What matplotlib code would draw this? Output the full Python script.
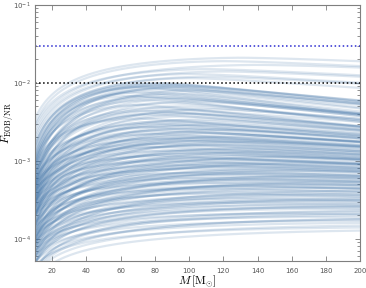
import numpy as np
import matplotlib
matplotlib.use('Agg')
import matplotlib.pyplot as plt
from matplotlib.ticker import LogLocator, NullFormatter

# per-curve values (units of 1e-3 for F)
f_start = [3.5, 3.0, 2.5, 2.8, 2.0, 2.2, 1.8, 1.6,
           1.2, 1.0, 1.5, 0.9, 1.3, 0.8, 1.1, 0.7, 1.0, 0.6, 0.9, 1.4, 0.5, 0.8, 1.2, 0.6,
           0.5, 0.9, 0.4, 0.7, 1.0, 0.45, 0.6, 0.35, 0.8, 0.5, 0.3, 0.65, 0.4, 0.9, 0.28,
           0.5, 0.35, 0.6, 0.25, 0.45, 0.7, 0.3, 0.2, 0.55, 0.4, 0.25, 0.6, 0.35, 0.18, 0.45,
           0.3, 0.5, 0.22, 0.38, 0.15,
           0.3, 0.45, 0.2, 0.35, 0.5, 0.15, 0.28, 0.4, 0.12, 0.25, 0.33, 0.2, 0.42, 0.1, 0.22,
           0.3, 0.16, 0.35, 0.13, 0.25, 0.09, 0.2,
           0.3, 0.15, 0.22, 0.1, 0.27, 0.08, 0.18, 0.25, 0.12, 0.2, 0.07, 0.15, 0.22, 0.1,
           0.17, 0.06, 0.13, 0.2, 0.09, 0.14,
           0.12, 0.07, 0.16, 0.09, 0.05, 0.11, 0.14, 0.06, 0.1, 0.08, 0.12, 0.05, 0.09, 0.07, 0.11,
           0.06, 0.09, 0.05, 0.08, 0.07, 0.04, 0.06, 0.08, 0.05, 0.07, 0.04, 0.06, 0.05, 0.035,
           0.045, 0.03,
           1.6, 1.1, 0.75, 0.55, 0.42, 0.32, 0.26, 0.21, 0.17, 0.14, 0.11, 0.095, 0.08, 0.065,
           0.055, 0.048, 0.04, 0.036, 0.7, 0.5, 0.38, 0.29, 0.23, 0.19, 0.15, 0.12, 0.1, 0.085]
f_peak = [21, 19, 17, 15, 14, 13, 12, 11.5,
          10, 9.8, 9.6, 9.4, 9.2, 9.0, 8.8, 8.6, 8.3, 8.0, 7.8, 7.5, 7.3, 7.0, 6.8, 6.5,
          6.2, 6.0, 5.8, 5.5, 5.2, 5.0, 4.8, 4.6, 4.4, 4.2, 4.0, 3.9, 3.7, 3.5, 3.4,
          3.2, 3.1, 3.0, 2.9, 2.8, 2.7, 2.6, 2.5, 2.45, 2.35, 2.25, 2.2, 2.1, 2.05, 2.0,
          1.95, 1.9, 1.85, 1.8, 1.75,
          1.7, 1.65, 1.6, 1.55, 1.5, 1.45, 1.4, 1.35, 1.3, 1.27, 1.23, 1.2, 1.15, 1.12, 1.1,
          1.07, 1.04, 1.0, 0.98, 0.95, 0.93, 0.9,
          0.88, 0.85, 0.82, 0.8, 0.78, 0.75, 0.72, 0.7, 0.68, 0.66, 0.64, 0.62, 0.6, 0.58,
          0.56, 0.54, 0.53, 0.52, 0.5, 0.48,
          0.47, 0.45, 0.44, 0.42, 0.41, 0.4, 0.38, 0.37, 0.36, 0.34, 0.33, 0.32, 0.31, 0.3, 0.29,
          0.28, 0.27, 0.26, 0.25, 0.24, 0.23, 0.22, 0.21, 0.2, 0.19, 0.18, 0.17, 0.16, 0.15,
          0.14, 0.13,
          9.0, 6.6, 4.5, 3.3, 2.6, 2.0, 1.6, 1.3, 1.05, 0.86, 0.7, 0.58, 0.46, 0.38,
          0.32, 0.26, 0.21, 0.18, 4.1, 2.9, 2.3, 1.8, 1.4, 1.15, 0.92, 0.76, 0.62, 0.5]
m_peak = [130, 120, 140, 110, 120, 100, 110, 100,
          80, 85, 75, 90, 80, 95, 70, 85, 80, 100, 75, 70, 90, 80, 65, 85,
          90, 75, 100, 85, 70, 95, 80, 110, 75, 90, 100, 80, 95, 70, 105,
          85, 100, 80, 110, 90, 75, 100, 120, 85, 95, 110, 80, 100, 125, 90,
          105, 85, 115, 95, 130,
          100, 85, 115, 95, 80, 130, 105, 90, 140, 110, 100, 120, 85, 150, 115,
          100, 130, 90, 140, 110, 160, 120,
          95, 130, 110, 150, 100, 165, 120, 100, 140, 115, 170, 125, 105, 150,
          120, 180, 135, 110, 160, 130,
          130, 170, 115, 150, 190, 140, 120, 180, 145, 160, 130, 200, 150, 170, 135,
          180, 150, 200, 160, 170, 220, 185, 155, 200, 170, 230, 190, 210, 240,
          220, 250,
          75, 80, 90, 95, 100, 105, 110, 115, 120, 130, 135, 140, 150, 160,
          170, 180, 200, 220, 85, 95, 100, 110, 120, 125, 135, 145, 155, 165]

mass = np.linspace(10, 200, 300)

fig = plt.figure(figsize=(3.66, 2.88), dpi=100)
ax = fig.add_axes([0.096, 0.094, 0.888, 0.889])

for f0, fp, mp in zip(f_start, f_peak, m_peak):
    t = (np.log(mass) - np.log(mp)) / (np.log(10) - np.log(mp))
    log_f = np.log10(fp * 1e-3) - np.log10(fp / f0) * np.abs(t) ** 1.6
    ax.plot(mass, 10 ** log_f, color='#3a6fa5', alpha=0.17, lw=1.6)

ax.axhline(0.03, color='#2a2ad0', ls=':', lw=1.1)
ax.axhline(0.01, color='black', ls=':', lw=1.1)

ax.set_yscale('log')
ax.set_xlim(10, 200)
ax.set_ylim(5.2e-5, 1e-1)
ax.set_xticks(np.arange(20, 201, 20))
ax.yaxis.set_major_locator(LogLocator(base=10, numticks=10))
ax.yaxis.set_minor_locator(LogLocator(base=10, subs=np.arange(2, 10), numticks=20))
ax.yaxis.set_minor_formatter(NullFormatter())

for s in ax.spines.values():
    s.set_color('#7f7f7f')
    s.set_linewidth(0.8)
ax.tick_params(which='both', direction='in', top=True, right=True,
               color='#7f7f7f', labelcolor='#555555', labelsize=5, width=0.6)
ax.tick_params(which='major', length=3.5)
ax.tick_params(which='minor', length=2)
ax.tick_params(axis='x', pad=5)
ax.tick_params(axis='y', pad=3)

ax.set_xlabel(r'$M\,[\mathrm{M}_{\odot}]$', fontsize=8.5, math_fontfamily='cm', labelpad=0)
ax.set_ylabel(r'$\bar{F}_{\rm EOB/NR}$', fontsize=8, math_fontfamily='cm')
ax.yaxis.set_label_coords(-0.058, 0.54)

fig.savefig('out.png', dpi=100)
